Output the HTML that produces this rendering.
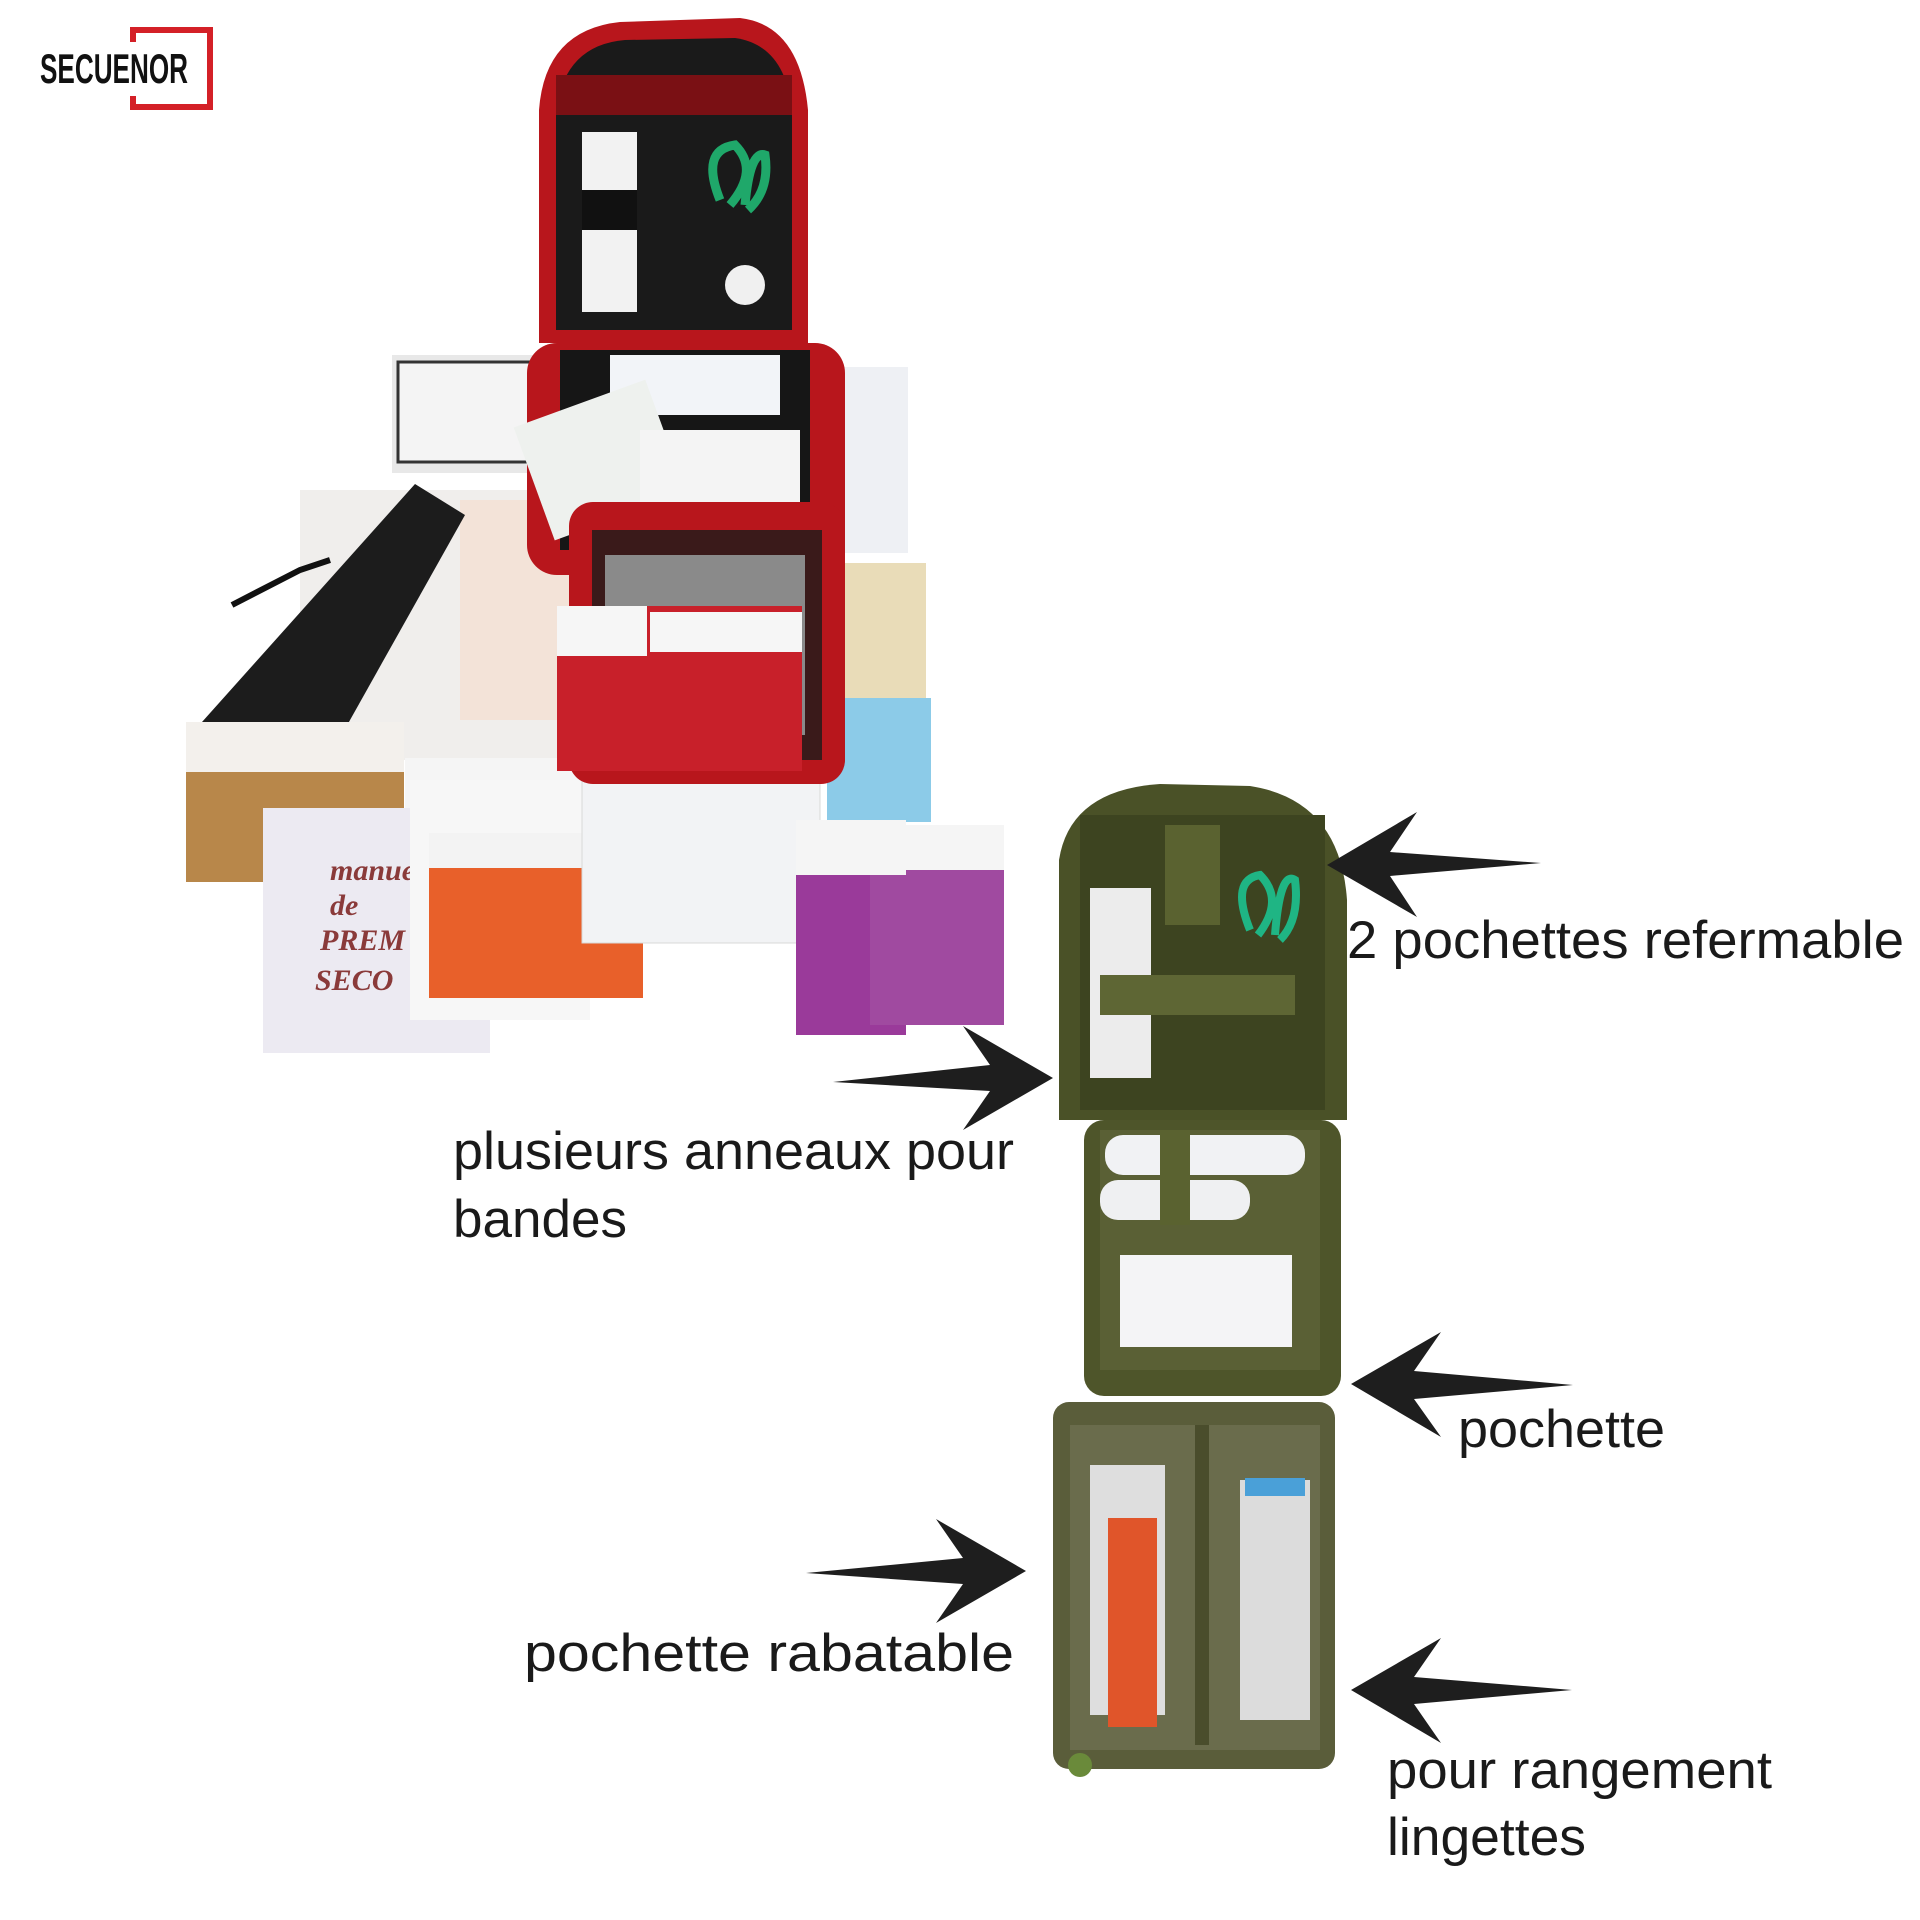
<!DOCTYPE html>
<html><head><meta charset="utf-8"><style>
html,body{margin:0;padding:0;background:#fff;}
svg{display:block;}
</style></head><body>
<svg width="1920" height="1920" viewBox="0 0 1920 1920" xmlns="http://www.w3.org/2000/svg">
<rect width="1920" height="1920" fill="#fff"/>
<!-- logo -->
<path d="M130 27 H213 V110 H130 V96 H136 V104 H207 V33 H136 V42 H130 Z" fill="#d42027"/>
<text x="40" y="83" font-family="Liberation Sans Narrow, Liberation Sans, sans-serif" font-weight="bold" font-size="42" textLength="148" lengthAdjust="spacingAndGlyphs" fill="#111">SECUENOR</text>

<!-- RED KIT -->
<g>
<rect x="392" y="355" width="150" height="118" fill="#e8e8e8"/>
<rect x="398" y="362" width="136" height="100" fill="#f4f4f4" stroke="#333" stroke-width="3"/>
<rect x="808" y="367" width="100" height="186" fill="#eef0f4"/>
<rect x="300" y="490" width="280" height="270" fill="#f0eeec"/>
<rect x="460" y="500" width="110" height="220" fill="#f3e3d8"/>
<path d="M202 722 L415 484 L465 515 L345 729 Z" fill="#1c1c1c"/>
<path d="M232 605 L300 570 L330 560" stroke="#111" stroke-width="6" fill="none"/>
<rect x="814" y="563" width="112" height="136" fill="#e9dcb8"/>
<rect x="827" y="698" width="104" height="124" fill="#8ccbe8"/>
<rect x="186" y="722" width="218" height="160" fill="#b8874a"/>
<rect x="186" y="722" width="218" height="50" fill="#f3f0ec"/>
<rect x="405" y="758" width="185" height="80" fill="#f5f5f5"/>
<rect x="263" y="808" width="227" height="245" fill="#eceaf2"/>
<text x="330" y="880" font-family="Liberation Serif, serif" font-style="italic" font-weight="bold" font-size="30" fill="#8a3a3a">manue</text>
<text x="330" y="915" font-family="Liberation Serif, serif" font-style="italic" font-weight="bold" font-size="30" fill="#8a3a3a">de</text>
<text x="320" y="950" font-family="Liberation Serif, serif" font-style="italic" font-weight="bold" font-size="30" fill="#8a3a3a">PREM</text>
<text x="315" y="990" font-family="Liberation Serif, serif" font-style="italic" font-weight="bold" font-size="30" fill="#8a3a3a">SECO</text>
<rect x="410" y="780" width="180" height="240" fill="#f7f7f7"/>
<rect x="429" y="833" width="214" height="165" fill="#e8602a"/>
<rect x="429" y="833" width="214" height="35" fill="#f3f3f3"/>
<rect x="582" y="778" width="238" height="165" fill="#f2f3f5" stroke="#d8d8d8"/>
<rect x="796" y="820" width="110" height="215" fill="#9a3a9a"/>
<rect x="870" y="825" width="134" height="200" fill="#a04aa0"/>
<rect x="796" y="820" width="110" height="55" fill="#f5f5f5"/>
<rect x="870" y="825" width="134" height="45" fill="#f5f5f5"/>
<!-- bag -->
<path d="M539 110 Q545 30 620 22 L740 18 Q800 25 808 110 L808 343 L539 343 Z" fill="#b8161c"/>
<path d="M556 110 Q565 45 625 40 L735 38 Q785 45 792 110 L792 330 L556 330 Z" fill="#1a1a1a"/>
<rect x="556" y="75" width="236" height="40" fill="#7a1014"/>
<rect x="582" y="132" width="55" height="180" fill="#f2f2f2"/>
<rect x="582" y="190" width="55" height="40" fill="#111"/>
<path d="M720 200 Q700 150 735 145 Q760 170 730 205 M745 205 Q750 150 765 155 Q770 190 748 210" stroke="#1fa86a" stroke-width="9" fill="none"/>
<circle cx="745" cy="285" r="20" fill="#f0f0f0"/>
<rect x="527" y="343" width="318" height="232" rx="30" fill="#b8161c"/>
<rect x="560" y="350" width="250" height="200" fill="#161616"/>
<rect x="610" y="355" width="170" height="60" fill="#f2f4f8"/>
<rect x="530" y="400" width="140" height="120" fill="#eef1ee" transform="rotate(-20 600 460)"/>
<rect x="640" y="430" width="160" height="90" fill="#f4f4f4"/>
<rect x="569" y="502" width="276" height="282" rx="24" fill="#b8161c"/>
<rect x="592" y="530" width="230" height="230" fill="#3a1a1a"/>
<rect x="605" y="555" width="200" height="180" fill="#8a8a8a"/>
<rect x="557" y="606" width="245" height="165" fill="#c8202a"/>
<rect x="557" y="606" width="90" height="50" fill="#f6f6f6"/>
<rect x="650" y="612" width="80" height="40" fill="#f6f6f6"/>
<rect x="730" y="612" width="72" height="40" fill="#f6f6f6"/>
</g>

<!-- GREEN POUCH -->
<g>
<path d="M1059 860 Q1070 790 1160 784 L1250 786 Q1340 800 1347 900 L1347 1120 L1059 1120 Z" fill="#4a5127"/>
<rect x="1080" y="815" width="245" height="295" fill="#3d4420"/>
<rect x="1090" y="888" width="61" height="190" fill="#ececec"/>
<rect x="1165" y="825" width="55" height="100" fill="#5a6230"/>
<rect x="1100" y="975" width="195" height="40" fill="#5e6634"/>
<path d="M1250 930 Q1230 880 1260 875 Q1285 900 1258 935 M1275 935 Q1280 870 1295 880 Q1300 920 1280 940" stroke="#1fb584" stroke-width="8" fill="none"/>
<rect x="1084" y="1120" width="257" height="276" rx="20" fill="#4e552a"/>
<rect x="1100" y="1130" width="220" height="240" fill="#5a6035"/>
<rect x="1105" y="1135" width="200" height="40" rx="18" fill="#f1f2f4"/>
<rect x="1100" y="1180" width="150" height="40" rx="18" fill="#eff0f2"/>
<rect x="1160" y="1130" width="30" height="95" fill="#5a6230"/>
<rect x="1120" y="1255" width="172" height="92" fill="#f4f4f6"/>
<rect x="1053" y="1402" width="282" height="367" rx="16" fill="#5a5d3a"/>
<rect x="1070" y="1425" width="250" height="325" fill="#6a6c4c"/>
<rect x="1090" y="1465" width="75" height="250" fill="#dedede"/>
<rect x="1108" y="1518" width="49" height="209" fill="#e0552a"/>
<rect x="1240" y="1480" width="70" height="240" fill="#dcdcdc"/>
<rect x="1245" y="1478" width="60" height="18" fill="#4aa0d8"/>
<rect x="1195" y="1425" width="14" height="320" fill="#4a4d2c"/>
<circle cx="1080" cy="1765" r="12" fill="#6a8a3a"/>
</g>

<!-- ARROWS -->
<g fill="#1e1e1e">
<polygon points="1327,865 1417,812 1390,852 1541,863 1390,876 1417,917"/>
<polygon points="1351,1384 1441,1332 1414,1371 1573,1385 1414,1399 1441,1437"/>
<polygon points="1351,1690 1441,1638 1414,1677 1572,1690 1414,1704 1441,1743"/>
<polygon points="1053,1078 963,1026 990,1065 833,1082 990,1091 963,1130"/>
<polygon points="1026,1571 936,1519 963,1558 806,1573 963,1584 936,1623"/>
</g>

<!-- LABELS -->
<g font-family="Liberation Sans, DejaVu Sans, sans-serif" font-size="53" fill="#1a1a1a">
<text x="1347" y="958" textLength="557" lengthAdjust="spacingAndGlyphs">2 pochettes refermable</text>
<text x="453" y="1169" textLength="561" lengthAdjust="spacingAndGlyphs">plusieurs anneaux pour</text>
<text x="453" y="1237" textLength="174" lengthAdjust="spacingAndGlyphs">bandes</text>
<text x="1458" y="1447" textLength="207" lengthAdjust="spacingAndGlyphs">pochette</text>
<text x="524" y="1671" textLength="490" lengthAdjust="spacingAndGlyphs">pochette rabatable</text>
<text x="1387" y="1788" textLength="385" lengthAdjust="spacingAndGlyphs">pour rangement</text>
<text x="1387" y="1855" textLength="199" lengthAdjust="spacingAndGlyphs">lingettes</text>
</g>
</svg>
</body></html>
